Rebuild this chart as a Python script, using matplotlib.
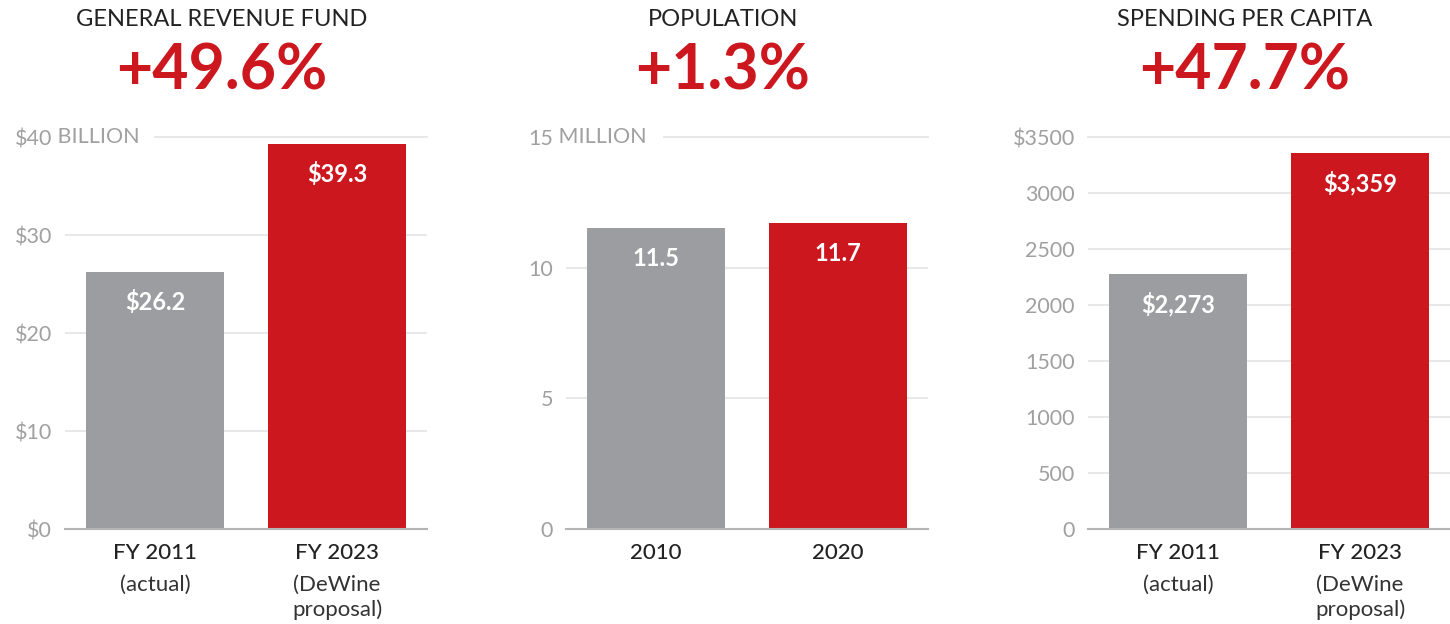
import matplotlib.pyplot as plt

plt.rcParams['font.family'] = ['Lato', 'DejaVu Sans']

# Data for the three panels
titles = ['GENERAL REVENUE FUND', 'POPULATION', 'SPENDING PER CAPITA']
changes = ['+49.6%', '+1.3%', '+47.7%']

revenue = [26.2, 39.3]
revenue_labels = ['$26.2', '$39.3']
revenue_ticks = [0, 10, 20, 30, 40]
revenue_ticklabels = ['$0', '$10', '$20', '$30', '$40']

population = [11.5, 11.7]
population_labels = ['11.5', '11.7']
population_ticks = [0, 5, 10, 15]
population_ticklabels = ['0', '5', '10', '15']

per_capita = [2273, 3359]
per_capita_labels = ['$2,273', '$3,359']
per_capita_ticks = [0, 500, 1000, 1500, 2000, 2500, 3000, 3500]
per_capita_ticklabels = ['0', '500', '1000', '1500', '2000', '2500', '3000', '$3500']

fy_cats = [['FY 2011', '(actual)'], ['FY 2023', '(DeWine', 'proposal)']]
year_cats = [['2010'], ['2020']]

GRAY = '#9c9da1'
RED = '#cc171e'
GRID = '#e6e6e6'
BASE = '#b4b4b4'
TICK = '#a0a0a0'
DARK = '#222222'

fig = plt.figure(figsize=(14.5, 6.24), dpi=100)
px = 72 / 100  # points per pixel

panels = [
    (65, revenue, revenue_labels, revenue_ticks, revenue_ticklabels, ' BILLION', 0.249, fy_cats),
    (566, population, population_labels, population_ticks, population_ticklabels, ' MILLION', 0.271, year_cats),
    (1088, per_capita, per_capita_labels, per_capita_ticks, per_capita_ticklabels, None, 0.0, fy_cats),
]

for i, (left, vals, vlabels, ticks, tlabels, suffix, topstart, cats) in enumerate(panels):
    ax = fig.add_axes([left / 1450, 1 - 529 / 624, 362 / 1450, (529 - 137) / 624])
    xs = [0, 1]
    ax.bar(xs, vals, width=0.758, color=[GRAY, RED], zorder=2)
    ax.set_xlim(-0.4945, 1.4945)
    ax.set_ylim(0, ticks[-1])
    for s in ax.spines.values():
        s.set_visible(False)
    ax.set_xticks([])
    ax.set_yticks(ticks)
    ax.set_yticklabels(tlabels)
    ax.tick_params(axis='y', length=0, pad=13 * px, labelsize=15.5, labelcolor=TICK)

    # gridlines
    for t in ticks[1:-1]:
        ax.axhline(t, color=GRID, lw=1.3, zorder=1)
    ax.axhline(ticks[-1], xmin=topstart, color=GRID, lw=1.3, zorder=1, clip_on=False)
    ax.axhline(0, color=BASE, lw=1.5, zorder=3, clip_on=False)

    if suffix:
        ax.annotate(suffix, xy=(0, ticks[-1]), xycoords=ax.get_yaxis_transform(),
                    xytext=(-13 * px, 0), textcoords='offset points',
                    ha='left', va='center', fontsize=15.5, color=TICK)

    # value labels inside bars
    for x, v, lab in zip(xs, vals, vlabels):
        ax.annotate(lab, xy=(x, v), xytext=(0, -30 * px), textcoords='offset points',
                    ha='center', va='center', fontsize=17, color='white', fontweight='bold')

    # category labels
    offsets = [24, 56, 81]
    for x, lines in zip(xs, cats):
        for j, line in enumerate(lines):
            ax.annotate(line, xy=(x, 0), xytext=(0, -offsets[j] * px), textcoords='offset points',
                        ha='center', va='center', fontsize=16, color=DARK if j == 0 else '#333333',
                        fontweight='medium' if j == 0 else 'normal', annotation_clip=False)

    # headline
    cx = (left + 181 - 24) / 1450
    fig.text(cx, 1 - 20 / 624, titles[i], ha='center', va='center', fontsize=17,
             color=DARK)
    fig.text(cx, 1 - 72 / 624, changes[i], ha='center', va='center', fontsize=45,
             color=RED, fontweight='bold')

fig.savefig('out.png', dpi=100)
